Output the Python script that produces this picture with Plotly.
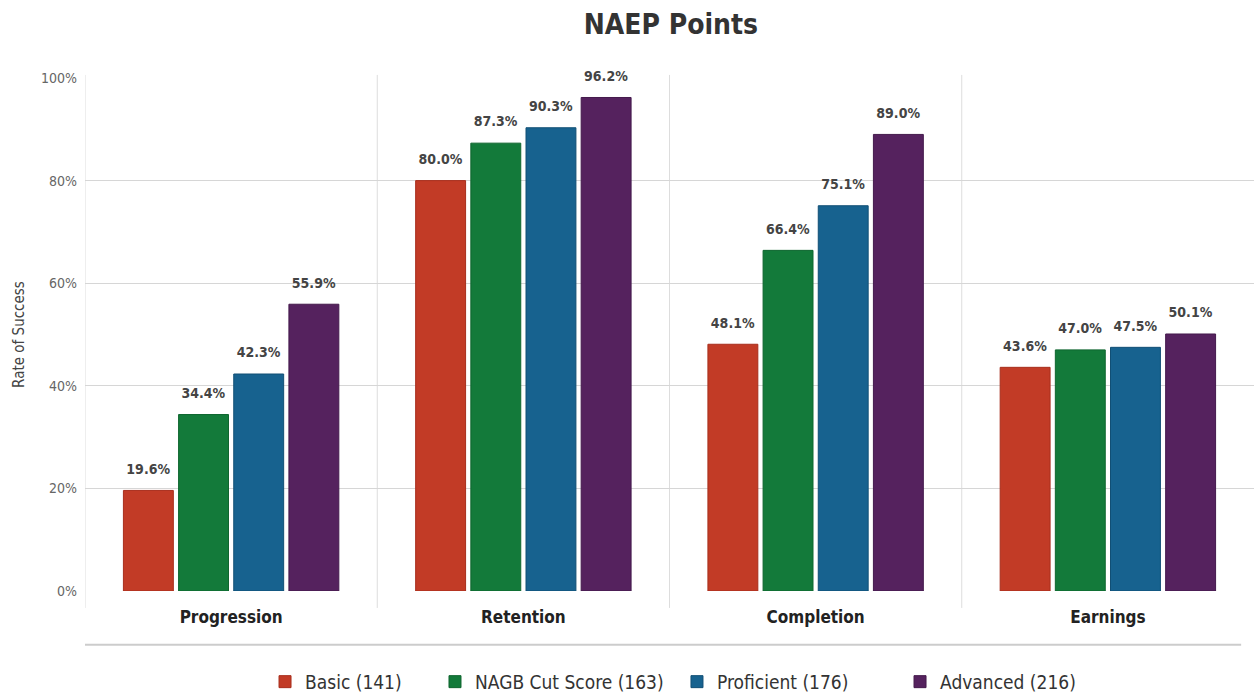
import plotly.graph_objects as go

categories = ["Progression", "Retention", "Completion", "Earnings"]
series_names = ["Basic (141)", "NAGB Cut Score (163)", "Proficient (176)", "Advanced (216)"]
basic = [19.6, 80.0, 48.1, 43.6]
nagb = [34.4, 87.3, 66.4, 47.0]
proficient = [42.3, 90.3, 75.1, 47.5]
advanced = [55.9, 96.2, 89.0, 50.1]
y_ticks = [0, 20, 40, 60, 80, 100]
y_tick_labels = ["0%", "20%", "40%", "60%", "80%", "100%"]

colors = ["#c23b26", "#137a3a", "#17628f", "#55225e"]
line_colors = ["#a82e1c", "#0f662f", "#114f75", "#441a4c"]
legend_x = [0.154, 0.2994, 0.5064, 0.6972]

FONT = "DejaVu Sans Condensed, Liberation Sans Narrow, DejaVu Sans, sans-serif"

fig = go.Figure()
legend_ids = ["legend", "legend2", "legend3", "legend4"]
for name, vals, c, lc, lid in zip(series_names, [basic, nagb, proficient, advanced], colors, line_colors, legend_ids):
    fig.add_trace(go.Bar(
        name=name, x=categories, y=vals, legend=lid,
        marker=dict(color=c, line=dict(color=lc, width=1)),
        text=[f"<span style='font-size:14px'>{v:.1f}%</span><br> " for v in vals],
        textposition="outside",
        textfont=dict(family=FONT, size=9, color="#444444", weight="bold"),
        cliponaxis=False,
    ))

legend_style = dict(orientation="h", xanchor="left", y=-0.177, yanchor="middle",
                    font=dict(family=FONT, size=19, color="#333333"), itemwidth=30,
                    itemclick=False, bgcolor="rgba(0,0,0,0)")

fig.update_layout(
    width=1254, height=694,
    margin=dict(l=85, r=0, t=78, b=103, autoexpand=False),
    paper_bgcolor="white", plot_bgcolor="white",
    barmode="group", bargap=0.245, bargroupgap=0.095,
    title=dict(text="<b>NAEP Points</b>", x=0.535, xanchor="center", y=0.965, yanchor="middle",
               font=dict(family=FONT, size=28, color="#333333")),
    font=dict(family=FONT),
    xaxis=dict(
        showgrid=False, ticks="", ticklabelstandoff=14,
        tickfont=dict(family=FONT, size=17, color="#222222", weight="bold"),
        showline=False, zeroline=False, range=[-0.5, 3.5],
    ),
    yaxis=dict(
        range=[0, 100], tickvals=y_ticks, ticktext=y_tick_labels,
        showgrid=True, gridcolor="#d6d6d6", gridwidth=1, zeroline=False,
        tickfont=dict(family=FONT, size=14, color="#666666"),
        ticks="", ticklabelstandoff=7,
        title=dict(text="Rate of Success", font=dict(family=FONT, size=15, color="#444444"), standoff=12),
    ),
    legend=dict(x=legend_x[0], **legend_style),
    legend2=dict(x=legend_x[1], **legend_style),
    legend3=dict(x=legend_x[2], **legend_style),
    legend4=dict(x=legend_x[3], **legend_style),
    showlegend=True,
)

# category separators
for i in range(len(categories)):
    fig.add_shape(type="line", xref="x", yref="paper", x0=i - 0.5, x1=i - 0.5, y0=-0.033, y1=1.006,
                  line=dict(color="#dddddd", width=1), layer="below")

fig.add_shape(type="line", xref="paper", yref="paper", x0=0, x1=0.989, y0=-0.105, y1=-0.105,
              line=dict(color="#cccccc", width=2))

fig.write_html("out.html")
